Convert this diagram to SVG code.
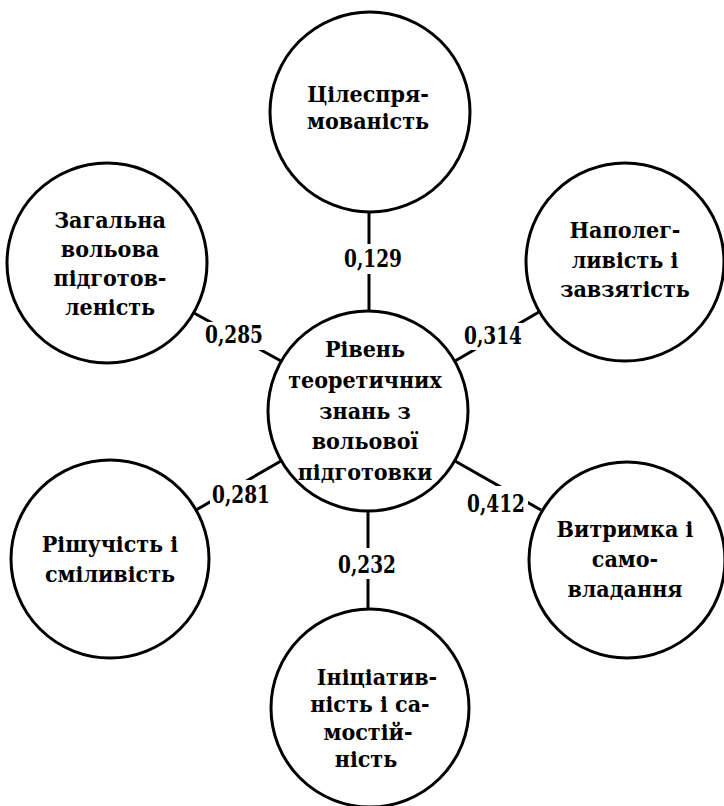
<svg xmlns="http://www.w3.org/2000/svg" width="724" height="806" viewBox="0 0 724 806">
<style>
.node{fill:#fff;stroke:#000;stroke-width:3}
.conn line{stroke:#000;stroke-width:3}
.lbl rect{fill:#fff}
text{font-family:"DejaVu Serif Condensed","DejaVu Serif","Liberation Serif",serif;font-stretch:condensed;font-weight:bold;font-size:23px;fill:#000;text-anchor:middle}
.lbl text{font-size:24px}
</style>
<rect width="724" height="806" fill="#fff"/>
<g id="connectors" class="conn">
<line x1="369" y1="212" x2="369" y2="311"/>
<line x1="368" y1="511" x2="368" y2="609"/>
<line x1="194" y1="313" x2="281" y2="361"/>
<line x1="455" y1="361" x2="539" y2="312"/>
<line x1="281" y1="461" x2="196" y2="510"/>
<line x1="455" y1="461" x2="541" y2="510"/>
</g>
<g id="labels" class="lbl">
<rect x="341" y="244" width="64" height="30"/><text x="373" y="267" textLength="58" lengthAdjust="spacingAndGlyphs">0,129</text>
<rect x="203" y="322" width="62" height="28"/><text x="234" y="343" textLength="58" lengthAdjust="spacingAndGlyphs">0,285</text>
<rect x="461" y="323" width="64" height="27"/><text x="493" y="344" textLength="58" lengthAdjust="spacingAndGlyphs">0,314</text>
<rect x="210" y="480" width="62" height="29"/><text x="241" y="503" textLength="58" lengthAdjust="spacingAndGlyphs">0,281</text>
<rect x="465" y="486" width="63" height="30"/><text x="496" y="512" textLength="58" lengthAdjust="spacingAndGlyphs">0,412</text>
<rect x="335" y="548" width="64" height="31"/><text x="367" y="573" textLength="58" lengthAdjust="spacingAndGlyphs">0,232</text>
</g>
<g id="node-top">
<circle class="node" cx="370" cy="112" r="100"/>
<text x="368" y="102">Цілеспря-</text>
<text x="368" y="129">мованість</text>
</g>
<g id="node-upper-left">
<circle class="node" cx="107" cy="263" r="100"/>
<text x="110" y="228">Загальна</text>
<text x="110" y="257">вольова</text>
<text x="110" y="286">підготов-</text>
<text x="110" y="315">леність</text>
</g>
<g id="node-upper-right">
<circle class="node" cx="625" cy="262" r="99"/>
<text x="625" y="238">Наполег-</text>
<text x="625" y="268">ливість і</text>
<text x="625" y="297">завзятість</text>
</g>
<g id="node-center">
<circle class="node" cx="368" cy="411" r="100"/>
<text x="365" y="357">Рівень</text>
<text x="365" y="388">теоретичних</text>
<text x="365" y="419">знань з</text>
<text x="365" y="449">вольової</text>
<text x="365" y="480">підготовки</text>
</g>
<g id="node-lower-left">
<circle class="node" cx="110" cy="559" r="99"/>
<text x="110" y="552">Рішучість і</text>
<text x="110" y="582">сміливість</text>
</g>
<g id="node-lower-right">
<circle class="node" cx="627" cy="560" r="98"/>
<text x="625" y="537">Витримка і</text>
<text x="625" y="567">само-</text>
<text x="625" y="597">владання</text>
</g>
<g id="node-bottom">
<circle class="node" cx="370" cy="708" r="99"/>
<text x="377" y="685">Ініціатив-</text>
<text x="370" y="712">ність і са-</text>
<text x="368" y="740">мостій-</text>
<text x="366" y="767">ність</text>
</g>
</svg>
